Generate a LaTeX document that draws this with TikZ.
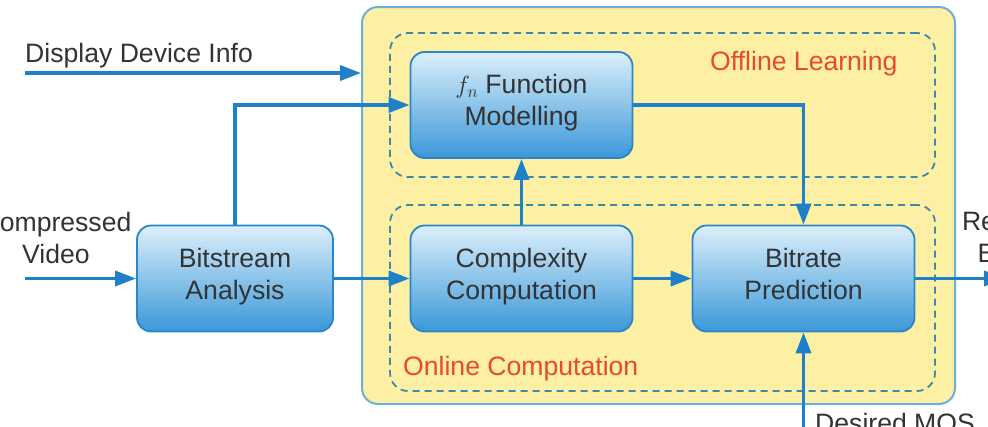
\documentclass[tikz,border=0pt]{standalone}
\usepackage{fontspec}
\setmainfont{Liberation Sans}
\usetikzlibrary{arrows.meta,calc}
\definecolor{yel}{HTML}{FDF0A4}
\definecolor{outerb}{HTML}{6AB0DC}
\definecolor{dashc}{HTML}{3A8AA8}
\definecolor{arr}{HTML}{1E80C8}
\definecolor{boxtop}{HTML}{DCEFFB}
\definecolor{boxbot}{HTML}{3A98D8}
\definecolor{boxb}{HTML}{2A86C8}
\definecolor{txt}{HTML}{333333}
\definecolor{redt}{HTML}{E84A2E}
\begin{document}
\begin{tikzpicture}[x=1pt,y=-1pt,
  every node/.style={font=\fontsize{26.6}{32}\selectfont, text=txt, inner sep=0pt},
  twoline/.style={align=center, execute at begin node=\strut, execute at end node=\strut},
  blockbox/.style={draw=boxb, line width=1.8pt, rounded corners=14pt,
    top color=boxtop, bottom color=boxbot, minimum height=106pt, twoline},
  regionbox/.style={draw=dashc, line width=1.8pt, dash pattern=on 7pt off 5pt, rounded corners=18pt},
  conn/.style={draw=arr, line width=3.6pt, -{Triangle[length=21pt,width=15pt]}},
  redlabel/.style={text=redt}]
\useasboundingbox (0,0) rectangle (988,426);
% outer container
\node[draw=outerb, fill=yel, line width=2pt, rounded corners=16pt,
  minimum width=593pt, minimum height=397pt] (outer) at (658.5,205.5) {};
% dashed regions
\node[regionbox, minimum width=545pt, minimum height=144pt] (offline) at (662.5,105) {};
\node[regionbox, minimum width=545pt, minimum height=186pt] (online) at (662.5,298) {};
\node[redlabel, anchor=base west] (offlab) at (710,70) {Offline Learning};
\node[redlabel, anchor=base west] (onlab) at (403,375) {Online Computation};
% blocks
\node[blockbox, minimum width=222pt] (fn) at (521.5,105) {$f_n$ Function\\Modelling};
\node[blockbox, minimum width=196pt] (bits) at (235,278.5) {Bitstream\\Analysis};
\node[blockbox, minimum width=222pt] (comp) at (521.5,278.5) {Complexity\\Computation};
\node[blockbox, minimum width=222pt] (pred) at (803.5,278.5) {Bitrate\\Prediction};
% outside labels
\node[anchor=base west] (displab) at (25,62) {Display Device Info};
\node[twoline] (cvlab) at (56,242.5) {Compressed\\Video};
\node[twoline] (rblab) at (1016,241.5) {Required\\Bitrate};
\node[anchor=base west] (moslab) at (815,432) {Desired MOS};
% free ends
\coordinate (dstart) at (25,73);
\coordinate (cvstart) at (25,278.5);
\coordinate (rbend) at (1005,278.5);
\coordinate (mosstart) at (803.5,440);
% connectors
\draw[conn] (dstart) -- (dstart -| outer.west);
\draw[conn] (cvstart) -- (bits.west);
\draw[conn] (bits.north) |- (fn.west);
\draw[conn] (bits.east) -- (comp.west);
\draw[conn] (comp.north) -- (fn.south);
\draw[conn] (fn.east) -| (pred.north);
\draw[conn] (comp.east) -- (pred.west);
\draw[conn] (pred.east) -- (rbend);
\draw[conn] (mosstart) -- (pred.south);
\end{tikzpicture}
\end{document}
